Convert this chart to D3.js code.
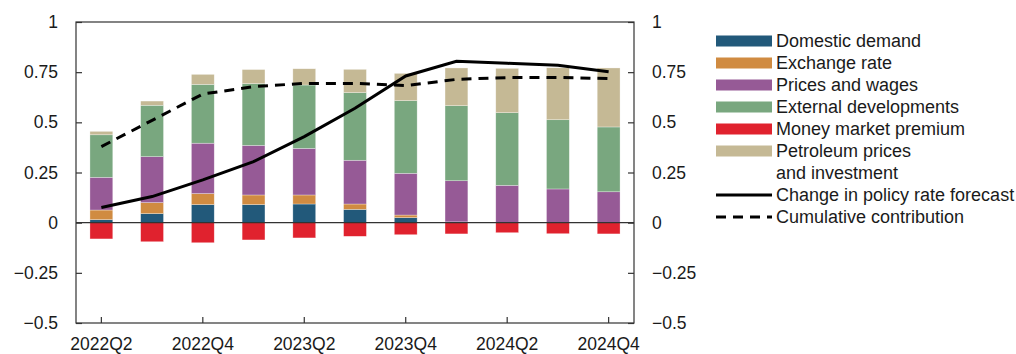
<!DOCTYPE html>
<html>
<head>
<meta charset="utf-8">
<script src="https://cdn.jsdelivr.net/npm/d3@7"></script>
<style>
  body { margin: 0; background: #fff; }
  text { font-family: "Liberation Sans", Arial, sans-serif; font-size: 17.5px; fill: #1a1a1a; }
  .legend text { font-size: 18px; }
</style>
</head>
<body>
<div id="chart"></div>
<script>
let quarters = ["2022Q2", "2022Q3", "2022Q4", "2023Q1", "2023Q2", "2023Q3",
  "2023Q4", "2024Q1", "2024Q2", "2024Q3", "2024Q4"]
let tickQuarters = ["2022Q2", "2022Q4", "2023Q2", "2023Q4", "2024Q2", "2024Q4"]
let yTicks = [-0.5, -0.25, 0, 0.25, 0.5, 0.75, 1]

let domestic  = [0.015, 0.045, 0.090, 0.090, 0.093, 0.066, 0.025, 0.004, 0, 0, 0]
let exchange  = [0.048, 0.055, 0.055, 0.048, 0.045, 0.027, 0.013, 0, 0, 0, 0]
let prices    = [0.163, 0.229, 0.251, 0.247, 0.232, 0.218, 0.208, 0.205, 0.186, 0.168, 0.154]
let external  = [0.212, 0.256, 0.293, 0.308, 0.316, 0.337, 0.362, 0.374, 0.362, 0.345, 0.323]
let moneyMkt  = [-0.081, -0.095, -0.100, -0.086, -0.076, -0.068, -0.060, -0.056, -0.050, -0.055, -0.056]
let petroleum = [0.017, 0.021, 0.050, 0.070, 0.081, 0.116, 0.136, 0.188, 0.221, 0.259, 0.294]

let policyForecast = [0.076, 0.130, 0.213, 0.304, 0.429, 0.570, 0.731, 0.804, 0.794, 0.784, 0.752]
let cumulative     = [0.379, 0.510, 0.641, 0.678, 0.694, 0.694, 0.683, 0.714, 0.723, 0.724, 0.718]

let series = [
  {name: "Domestic demand", values: domestic, color: "#22597a"},
  {name: "Exchange rate", values: exchange, color: "#d08b41"},
  {name: "Prices and wages", values: prices, color: "#965a96"},
  {name: "External developments", values: external, color: "#79a77f"},
  {name: "Money market premium", values: moneyMkt, color: "#e0222e"},
  {name: "Petroleum prices|and investment", values: petroleum, color: "#c5b995"}
]

const width = 1016, height = 354
const plotLeft = 76, plotRight = 634, plotTop = 22, plotBottom = 323

let svg = d3.select("#chart").append("svg")
  .attr("width", width)
  .attr("height", height)

let x = d3.scaleBand()
  .domain(quarters)
  .range([plotLeft, plotRight])
  .paddingInner(0.55)
  .paddingOuter(0.275)

let y = d3.scaleLinear()
  .domain([-0.5, 1])
  .range([plotBottom, plotTop])

// stack positive and negative parts separately
let posBase = quarters.map(() => 0)
let negBase = quarters.map(() => 0)
series.forEach(s => {
  let g = svg.append("g").attr("fill", s.color)
  s.values.forEach((v, i) => {
    if (v === 0) return
    let y0, y1
    if (v > 0) { y0 = posBase[i]; y1 = y0 + v; posBase[i] = y1 }
    else { y0 = negBase[i]; y1 = y0 + v; negBase[i] = y1 }
    g.append("rect")
      .attr("x", x(quarters[i]))
      .attr("width", x.bandwidth())
      .attr("y", y(Math.max(y0, y1)))
      .attr("height", Math.abs(y(y0) - y(y1)))
      .attr("stroke", "#fff")
      .attr("stroke-opacity", 0.5)
      .attr("stroke-width", 0.6)
  })
})

// zero line
svg.append("line")
  .attr("x1", plotLeft).attr("x2", plotRight)
  .attr("y1", y(0)).attr("y2", y(0))
  .attr("stroke", "#333").attr("stroke-width", 1.2)

let cx = q => x(q) + x.bandwidth() / 2
let line = d3.line()
  .x((d, i) => cx(quarters[i]))
  .y(d => y(d))

svg.append("path")
  .datum(cumulative)
  .attr("d", line)
  .attr("fill", "none")
  .attr("stroke", "#000")
  .attr("stroke-width", 3)
  .attr("stroke-dasharray", "10,7")

svg.append("path")
  .datum(policyForecast)
  .attr("d", line)
  .attr("fill", "none")
  .attr("stroke", "#000")
  .attr("stroke-width", 3)

// frame
svg.append("rect")
  .attr("x", plotLeft).attr("y", plotTop)
  .attr("width", plotRight - plotLeft).attr("height", plotBottom - plotTop)
  .attr("fill", "none")
  .attr("stroke", "#333").attr("stroke-width", 1.2)

let fmt = d => d === 0 || d === 1 ? String(d) : String(d).replace("-", "\u2212")

let yLeft = d3.axisLeft(y).tickValues(yTicks).tickSize(-6).tickPadding(18).tickFormat(fmt)
let yRight = d3.axisRight(y).tickValues(yTicks).tickSize(-6).tickPadding(18).tickFormat(fmt)
let xAxis = d3.axisBottom(x).tickValues(tickQuarters).tickSize(-6).tickPadding(15)

svg.append("g").attr("transform", `translate(${plotLeft},0)`).call(yLeft)
svg.append("g").attr("transform", `translate(${plotRight},0)`).call(yRight)
svg.append("g").attr("transform", `translate(0,${plotBottom})`).call(xAxis)

svg.selectAll(".domain").remove()
svg.selectAll(".tick line").attr("stroke", "#333").attr("stroke-width", 1.2)
svg.selectAll(".tick text").attr("font-size", null).attr("font-family", null)

// legend
let legendX = 716, legendY = 41, rowH = 22
let legend = svg.append("g").attr("class", "legend")
let row = 0
series.forEach(s => {
  let ly = legendY + row * rowH
  legend.append("rect")
    .attr("x", legendX).attr("y", ly - 5.5)
    .attr("width", 56).attr("height", 11)
    .attr("fill", s.color)
  s.name.split("|").forEach((t, k) => {
    legend.append("text")
      .attr("x", legendX + 60).attr("y", ly + k * rowH)
      .attr("dy", "0.36em")
      .text(t)
    if (k > 0) row++
  })
  row++
})
let lineItems = [
  {name: "Change in policy rate forecast", dash: null},
  {name: "Cumulative contribution", dash: "10,7"}
]
lineItems.forEach(d => {
  let ly = legendY + row * rowH
  legend.append("line")
    .attr("x1", legendX).attr("x2", legendX + 56)
    .attr("y1", ly).attr("y2", ly)
    .attr("stroke", "#000").attr("stroke-width", 3)
    .attr("stroke-dasharray", d.dash)
  legend.append("text")
    .attr("x", legendX + 60).attr("y", ly)
    .attr("dy", "0.36em")
    .text(d.name)
  row++
})
</script>
</body>
</html>
